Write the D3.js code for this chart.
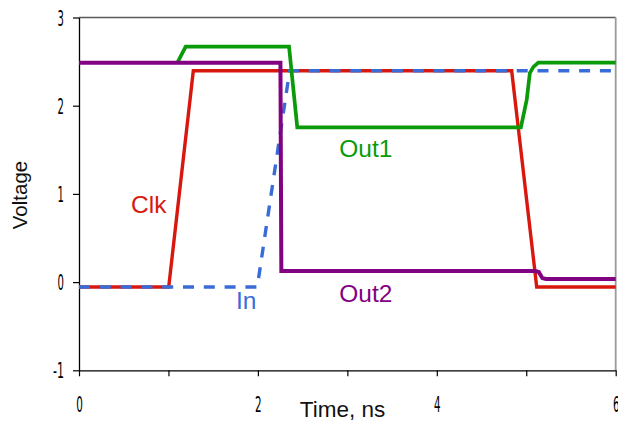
<!DOCTYPE html>
<html>
<head>
<meta charset="utf-8">
<script src="https://cdn.jsdelivr.net/npm/d3@7"></script>
<style>
  html, body { margin: 0; padding: 0; background: #fff; }
  svg { display: block; }
</style>
</head>
<body>
<svg id="chart" width="618" height="427"></svg>
<script>
// ---- data (time in ns, voltage in V) ----
const clkT  = [0, 1.003, 1.278, 4.837, 5.117, 6];
const clkV  = [-0.055, -0.055, 2.397, 2.397, -0.055, -0.055];

const inT   = [0, 1.993, 2.355, 6];
const inV   = [-0.055, -0.055, 2.397, 2.397];

const out1T = [1.10, 1.193, 2.348, 2.44, 4.94, 5.005, 5.04, 5.08, 5.135, 6];
const out1V = [2.488, 2.67, 2.67, 1.755, 1.755, 2.065, 2.37, 2.44, 2.488, 2.488];

const out2T = [0, 2.252, 2.262, 5.10, 5.14, 5.16, 5.18, 5.22, 6];
const out2V = [2.488, 2.488, 0.126, 0.126, 0.115, 0.08, 0.045, 0.035, 0.035];

const xTicks = [0, 1, 2, 3, 4, 5, 6];
const xTickLabels = ["0", "", "2", "", "4", "", "6"];
const yTicks = [-1, 0, 1, 2, 3];
const yTickLabels = ["-1", "0", "1", "2", "3"];

const seriesNames = ["Clk", "In", "Out1", "Out2"];
const seriesColors = ["#d8180e", "#3a6cd9", "#0a9a0a", "#820382"];

// ---- layout ----
const svg = d3.select("#chart");
const x = d3.scaleLinear().domain([0, 6]).range([79, 615.7]);
const y = d3.scaleLinear().domain([-1, 3]).range([370.3, 17.5]);

// frame: top (dark gray) and right (light gray)
svg.append("line").attr("x1", x(0)).attr("x2", x(6)).attr("y1", y(3)).attr("y2", y(3))
  .attr("stroke", "#5a5a5a").attr("stroke-width", 1.3);
svg.append("line").attr("x1", x(6)).attr("x2", x(6)).attr("y1", y(3)).attr("y2", y(-1))
  .attr("stroke", "#9a9a9a").attr("stroke-width", 1.8);

const tickFont = "'Liberation Sans Narrow','DejaVu Sans Condensed','Liberation Sans',Arial,sans-serif";

// axes
const xAxis = d3.axisBottom(x).tickValues(xTicks)
  .tickFormat((d, i) => xTickLabels[i]).tickSize(6).tickSizeOuter(0);
const gx = svg.append("g").attr("transform", `translate(0,${y(-1)})`).call(xAxis);
gx.select(".domain").attr("stroke", "#000").attr("stroke-width", 1.3);
gx.selectAll(".tick line").attr("stroke", "#000").attr("stroke-width", 1.2);
gx.selectAll(".tick text")
  .attr("y", 42).attr("dy", 0)
  .attr("font-family", tickFont).attr("font-size", 22).attr("fill", "#000")
  .attr("textLength", d => 6.6).attr("lengthAdjust", "spacingAndGlyphs");

const yAxis = d3.axisLeft(y).tickValues(yTicks)
  .tickFormat((d, i) => yTickLabels[i]).tickSize(6).tickSizeOuter(0);
const gy = svg.append("g").attr("transform", `translate(${x(0)},0)`).call(yAxis);
gy.select(".domain").attr("stroke", "#000").attr("stroke-width", 1.3);
gy.selectAll(".tick line").attr("stroke", "#000").attr("stroke-width", 1.2);
gy.selectAll(".tick text")
  .attr("x", -15).attr("dy", 7.5)
  .attr("font-family", tickFont).attr("font-size", 22).attr("fill", "#000")
  .attr("textLength", (d, i) => yTickLabels[i].length > 1 ? 11 : 6.4)
  .attr("lengthAdjust", "spacingAndGlyphs");
gx.attr("font-family", null); gy.attr("font-family", null);

// axis titles
svg.append("text").attr("x", 342.5).attr("y", 417).attr("text-anchor", "middle")
  .attr("font-family", "'Liberation Sans',Arial,sans-serif").attr("font-size", 22.5)
  .attr("fill", "#111").text("Time, ns");
svg.append("text").attr("transform", "translate(27,195) rotate(-90)").attr("text-anchor", "middle")
  .attr("font-family", "'Liberation Sans',Arial,sans-serif").attr("font-size", 20.5)
  .attr("fill", "#111").text("Voltage");

// lines
const line = d3.line().x(d => x(d[0])).y(d => y(d[1]));
const zip = (a, b) => a.map((t, i) => [t, b[i]]);

const series = [
  { pts: zip(clkT, clkV), color: seriesColors[0], w: 3.4, dash: null },
  { pts: zip(inT, inV), color: seriesColors[1], w: 3.4, dash: "11,9.8" },
  { pts: zip(out1T, out1V), color: seriesColors[2], w: 3.7, dash: null },
  { pts: zip(out2T, out2V), color: seriesColors[3], w: 4, dash: null }
];
series.forEach(s => {
  svg.append("path").datum(s.pts).attr("d", line)
    .attr("fill", "none").attr("stroke", s.color).attr("stroke-width", s.w)
    .attr("stroke-dasharray", s.dash).attr("stroke-linejoin", "miter");
});

// series labels
const labelFont = "'Liberation Sans',Arial,sans-serif";
const labelPos = [[131, 213.3], [236, 309.3], [339.3, 156.7], [339.3, 302]];
seriesNames.forEach((n, i) => {
  svg.append("text").attr("x", labelPos[i][0]).attr("y", labelPos[i][1])
    .attr("font-family", labelFont).attr("font-size", 24.5)
    .attr("fill", seriesColors[i]).text(n);
});
</script>
</body>
</html>
